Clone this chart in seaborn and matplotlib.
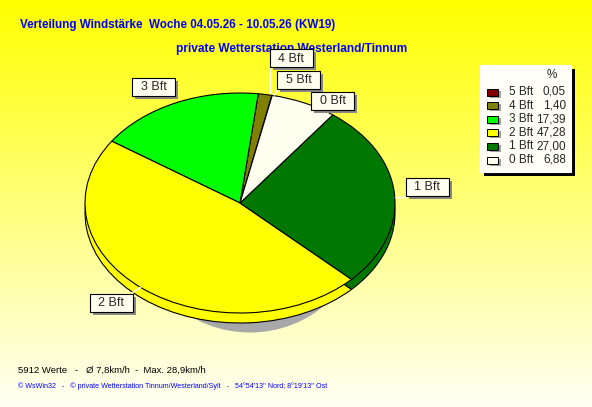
import numpy as np
import matplotlib
matplotlib.use("Agg")
import matplotlib.pyplot as plt
import seaborn as sns
from matplotlib.patches import Rectangle, Ellipse

# Daten: Windstaerke-Verteilung KW19
stufen = ['5 Bft', '4 Bft', '3 Bft', '2 Bft', '1 Bft', '0 Bft']
anteil = [0.05, 1.40, 17.39, 47.28, 27.00, 6.88]
farben = ['#800000', '#808000', '#00FF00', '#FFFF00', '#007800', '#FFFFF0']

titel = 'Verteilung Windstärke  Woche 04.05.26 - 10.05.26 (KW19)'
untertitel = 'private Wetterstation Westerland/Tinnum'
info = '5912 Werte   -   Ø 7,8km/h  -  Max. 28,9km/h'
fusszeile = "© WsWin32   -   © private Wetterstation Tinnum/Westerland/Sylt   -   54°54'13'' Nord; 8°19'13'' Ost"

# Beschriftungskaesten (Mittelpunkt in Pixel) und Fuehrungslinien
label_pos = {'4 Bft': (291, 58), '5 Bft': (298.5, 79.5), '0 Bft': (332.5, 101),
             '3 Bft': (153.5, 86.5), '1 Bft': (427, 186.5), '2 Bft': (111.5, 302.5)}
leader = {'4 Bft': [(270, 67), (270, 93)], '5 Bft': [(279, 88), (274, 95)],
          '1 Bft': [(395, 197), (406, 197)], '2 Bft': [(132, 293), (141, 287)]}

sns.set_style('white')
plt.rcParams['font.family'] = ['Liberation Sans', 'DejaVu Sans']

W, H = 592, 407
fig = plt.figure(figsize=(W / 100, H / 100), dpi=100)

# Hintergrund-Verlauf gelb -> hell
bg = fig.add_axes([0, 0, 1, 1], zorder=0)
g = np.linspace(0, 1, 256)
rgb = np.ones((256, 1, 3))
rgb[:, 0, 2] = 0.96 * g
bg.imshow(rgb, aspect='auto', extent=[0, W, H, 0])
bg.set_xlim(0, W)
bg.set_ylim(H, 0)
bg.axis('off')

# Torte als Ellipse (3D-Optik)
cx, cy, rx, ry, depth = 240, 203, 155, 110, 10
pax = fig.add_axes([(cx - rx) / W, (H - cy - ry) / H, 2 * rx / W, 2 * ry / H], zorder=1)
d = depth / ry
# Schatten unter der Torte
pax.add_patch(Ellipse((10 / rx, -27 / ry), 220 / rx, 205 / ry,
                      facecolor='#A8A8A8', edgecolor='none', clip_on=False, zorder=0))
wp = dict(edgecolor='black', linewidth=0.8, clip_on=False)
pax.pie(anteil, colors=farben, startangle=78, counterclock=True,
        center=(0, -d), radius=1, wedgeprops=wp)
pax.pie(anteil, colors=farben, startangle=78, counterclock=True,
        center=(0, 0), radius=1, wedgeprops=wp)
pax.set_aspect('auto')
pax.set_xlim(-1, 1)
pax.set_ylim(-1, 1)
pax.axis('off')

# Overlay fuer Texte, Labels, Legende
ov = fig.add_axes([0, 0, 1, 1], zorder=2)
ov.set_xlim(0, W)
ov.set_ylim(H, 0)
ov.axis('off')

ov.text(20, 25, titel, color='#0000FF', fontweight='bold', fontsize=8.4, va='center')
ov.text(176, 49, untertitel, color='#0000FF', fontweight='bold', fontsize=8.6, va='center')
ov.text(18, 370, info, color='black', fontsize=6.8, va='center')
ov.text(18, 386, fusszeile, color='#0000FF', fontsize=5.1, va='center')

for name, pts in leader.items():
    (x0, y0), (x1, y1) = pts
    ov.plot([x0, x1], [y0, y1], color='white', lw=1, zorder=3)

bw, bh = 43, 18
for name, (x, y) in label_pos.items():
    ov.add_patch(Rectangle((x - bw / 2 + 3, y - bh / 2 + 3), bw, bh, facecolor='#888888',
                           edgecolor='none', zorder=4))
    ov.add_patch(Rectangle((x - bw / 2, y - bh / 2), bw, bh, facecolor='#FFFFF0',
                           edgecolor='black', lw=0.8, zorder=5))
    ov.text(x, y + 0.5, name, ha='center', va='center', fontsize=9, zorder=6)

# Legende
lx, ly, lw_, lh = 480, 65, 91, 107
ov.add_patch(Rectangle((lx + 4, ly + 4), lw_, lh, facecolor='black', edgecolor='none', zorder=4))
ov.add_patch(Rectangle((lx, ly), lw_, lh, facecolor='#FFFFF8', edgecolor='white', lw=0.8, zorder=5))
ov.text(552, 75, '%', ha='center', va='center', fontsize=8.5, zorder=6)
for i, (name, val, col) in enumerate(zip(stufen, anteil, farben)):
    y = 92 + 13.6 * i
    ov.add_patch(Rectangle((490, y - 1.5), 11, 7, facecolor='#A0A0A0', edgecolor='none', zorder=6))
    ov.add_patch(Rectangle((487, y - 3.5), 11, 7, facecolor=col, edgecolor='black', lw=0.7, zorder=7))
    ov.text(509, y, name, ha='left', va='center', fontsize=8.5, zorder=7)
    ov.text(566, y, f'{val:.2f}'.replace('.', ','), ha='right', va='center', fontsize=8.5, zorder=7)

fig.savefig('out.png', dpi=100)
